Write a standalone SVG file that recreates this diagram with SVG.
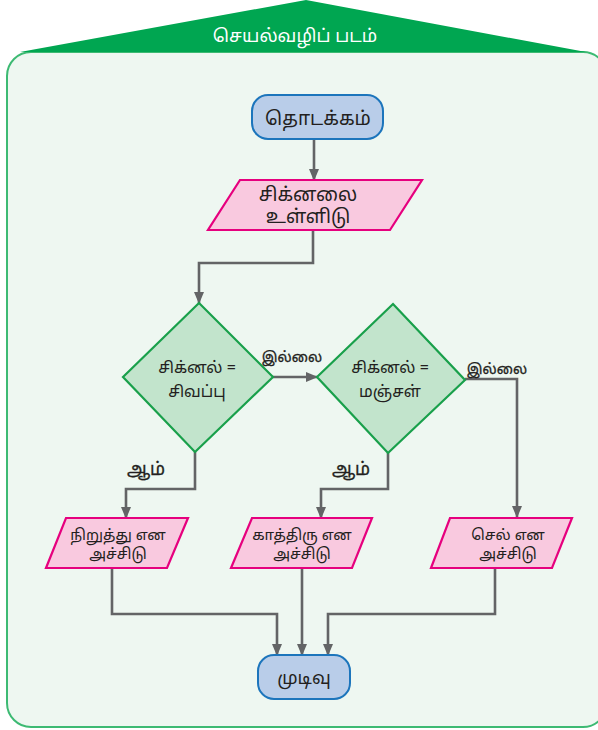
<svg xmlns="http://www.w3.org/2000/svg" width="598" height="730" viewBox="0 0 598 730">
<defs>
<marker id="ah" viewBox="0 0 12 10" refX="11" refY="5" markerWidth="12" markerHeight="10" markerUnits="userSpaceOnUse" orient="auto">
<path d="M0,0 L12,5 L0,10 z" fill="#636466"/>
</marker>
<style>
.t{font-family:"Noto Sans Tamil","Noto Sans","DejaVu Sans",sans-serif;fill:#231f20;text-anchor:middle}
.lb{stroke:#231f20;stroke-width:0.3}
.term{fill:#b9cde9;stroke:#1c75bc;stroke-width:2}
.io{fill:#f9c9df;stroke:#e6007e;stroke-width:2.2}
.dec{fill:#c2e4cc;stroke:#19a04b;stroke-width:2.2}
.c{fill:none;stroke:#636466;stroke-width:2.6;marker-end:url(#ah)}
</style>
</defs>
<rect x="0" y="0" width="598" height="730" fill="#ffffff"/>
<g id="frame">
<rect x="7" y="52" width="600" height="675" rx="24" ry="24" fill="#eef7f1" stroke="#3dba73" stroke-width="2"/>
<path d="M20,52 L306,0 L586,52 Z" fill="#00a651"/>
<text x="295" y="42" class="t" style="fill:#ffffff;font-size:18px">செயல்வழிப் படம்</text>
</g>
<g id="connectors">
<path class="c" d="M314 139 V180"/>
<path class="c" d="M313 230 V263 H199 V303"/>
<path class="c" d="M273 377 H317"/>
<path class="c" d="M465 379 H517 V517"/>
<path class="c" d="M195 452 V489 H126 V518"/>
<path class="c" d="M388 453 V489 H321 V518"/>
<path class="c" d="M112 568 V614 H277 V655"/>
<path class="c" d="M302 568 V655"/>
<path class="c" d="M495 568 V614 H328 V655"/>
</g>
<g id="labels">
<text x="292" y="362" class="t lb" style="font-size:14px">இல்லை</text>
<text x="497" y="374" class="t lb" style="font-size:14px">இல்லை</text>
<text x="146" y="475" class="t lb" style="font-size:17.5px">ஆம்</text>
<text x="351" y="475" class="t lb" style="font-size:17.5px">ஆம்</text>
</g>
<g id="start">
<rect class="term" x="252" y="95" width="131" height="44" rx="16" ry="16"/>
<text x="318" y="125" class="t" style="font-size:19px">தொடக்கம்</text>
</g>
<g id="input">
<polygon class="io" points="240,180 422,180 390,230 208,230"/>
<text x="308" y="201" class="t" style="font-size:19px">சிக்னலை</text>
<text x="308" y="223" class="t" style="font-size:19px">உள்ளிடு</text>
</g>
<g id="decision1">
<polygon class="dec" points="199,303 273,377 195,452 123,377"/>
<text x="197" y="373" class="t" style="font-size:16px">சிக்னல் =</text>
<text x="197" y="397" class="t" style="font-size:16px">சிவப்பு</text>
</g>
<g id="decision2">
<polygon class="dec" points="393,304 465,380 388,453 317,377"/>
<text x="390" y="373" class="t" style="font-size:16px">சிக்னல் =</text>
<text x="390" y="397" class="t" style="font-size:16px">மஞ்சள்</text>
</g>
<g id="out1">
<polygon class="io" points="66,518 188,518 167,568 46,568"/>
<text x="118" y="540" class="t" style="font-size:15px">நிறுத்து என</text>
<text x="118" y="559" class="t" style="font-size:15px">அச்சிடு</text>
</g>
<g id="out2">
<polygon class="io" points="252,518 372,518 352,568 231,568"/>
<text x="302" y="540" class="t" style="font-size:15px">காத்திரு என</text>
<text x="302" y="559" class="t" style="font-size:15px">அச்சிடு</text>
</g>
<g id="out3">
<polygon class="io" points="450,518 572,518 552,568 431,568"/>
<text x="508" y="540" class="t" style="font-size:15px">செல் என</text>
<text x="508" y="559" class="t" style="font-size:15px">அச்சிடு</text>
</g>
<g id="end">
<rect class="term" x="258" y="655" width="92" height="44" rx="16" ry="16"/>
<text x="304" y="684" class="t" style="font-size:18px">முடிவு</text>
</g>
</svg>
